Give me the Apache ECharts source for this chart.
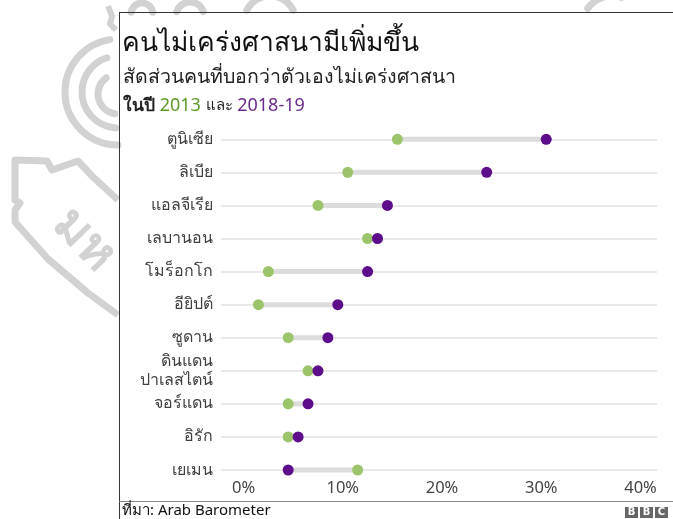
<!DOCTYPE html>
<html>
<head>
<meta charset="utf-8">
<script src="https://cdn.jsdelivr.net/npm/echarts@6/dist/echarts.min.js"></script>
<style>
  html, body { margin: 0; padding: 0; background: #fff; }
  #chart { width: 673px; height: 519px; }
</style>
</head>
<body>
<div id="chart"></div>
<script>
var countries = ['ตูนิเซีย', 'ลิเบีย', 'แอลจีเรีย', 'เลบานอน', 'โมร็อกโก', 'อียิปต์', 'ซูดาน', 'ดินแดน\nปาเลสไตน์', 'จอร์แดน', 'อิรัก', 'เยเมน'];
var val2013 = [15.5, 10.5, 7.5, 12.5, 2.5, 1.5, 4.5, 6.5, 4.5, 4.5, 11.5];
var val2018 = [30.5, 24.5, 14.5, 13.5, 12.5, 9.5, 8.5, 7.5, 6.5, 5.5, 4.5];
var xTicks = [0, 10, 20, 30, 40];

var FONT = "Tahoma, 'Noto Sans', 'DejaVu Sans', sans-serif";
var WM = '#d2d2d2'; // watermark gray
var chart = echarts.init(document.getElementById('chart'));

// gray bar between the two years
var connector = countries.map(function (c, i) {
    return [Math.min(val2013[i], val2018[i]), Math.max(val2013[i], val2018[i]), i];
});

function wmArc(cx, cy, r, a0, a1) {
    return { type: 'arc', silent: true, z: -10,
        shape: { cx: cx, cy: cy, r: r, startAngle: a0, endAngle: a1 },
        style: { stroke: WM, lineWidth: 7, fill: null, lineCap: 'round' } };
}

option = {
    backgroundColor: '#fff',
    animation: false,
    textStyle: { fontFamily: FONT },
    title: [{
        text: 'คนไม่เคร่งศาสนามีเพิ่มขึ้น',
        left: 122, top: 30, padding: 0,
        textStyle: { fontSize: 26.5, fontWeight: 'normal', color: '#111', fontFamily: FONT }
    }, {
        text: 'สัดส่วนคนที่บอกว่าตัวเองไม่เคร่งศาสนา',
        left: 123, top: 67, padding: 0,
        textStyle: { fontSize: 19.5, fontWeight: 'normal', color: '#222', fontFamily: FONT }
    }, {
        text: '{a|ในปี} {g|2013} {b|และ} {p|2018-19}',
        left: 123, top: 97, padding: 0,
        textStyle: {
            fontFamily: FONT,
            rich: {
                a: { fontSize: 17.5, fontWeight: 'bold', color: '#222', fontFamily: FONT },
                g: { fontSize: 18, fontWeight: 'normal', color: '#5e9a26', fontFamily: FONT },
                b: { fontSize: 15, fontWeight: 'normal', color: '#222', fontFamily: FONT },
                p: { fontSize: 18, fontWeight: 'normal', color: '#6b2a8e', fontFamily: FONT }
            }
        }
    }],
    grid: { left: 221, right: 16, top: 139.3, bottom: 49 },
    xAxis: {
        type: 'value',
        min: -2.27,
        max: 41.66,
        splitLine: { show: false },
        axisLine: { show: false },
        axisTick: { show: false },
        axisLabel: {
            customValues: xTicks,
            formatter: function (v) { return v + '%'; },
            fontSize: 16.5, color: '#444', margin: 10, fontFamily: FONT
        }
    },
    yAxis: {
        type: 'category',
        data: countries,
        inverse: true,
        boundaryGap: false,
        axisLine: { show: false },
        axisTick: { show: false },
        splitLine: { show: true, lineStyle: { color: '#e2e2e2', width: 1.5 } },
        axisLabel: { fontSize: 16, color: '#404040', margin: 8, lineHeight: 19, fontFamily: FONT }
    },
    series: [{
        type: 'custom',
        data: connector,
        renderItem: function (params, api) {
            var a = api.coord([api.value(0), api.value(2)]);
            var b = api.coord([api.value(1), api.value(2)]);
            return {
                type: 'line',
                shape: { x1: a[0], y1: a[1], x2: b[0], y2: b[1] },
                style: { stroke: '#dcdcdc', lineWidth: 5 }
            };
        },
        z: 2
    }, {
        name: '2013',
        type: 'scatter',
        data: val2013.map(function (v, i) { return [v, i]; }),
        symbolSize: 11,
        itemStyle: { color: '#9cc46a', opacity: 1 },
        z: 3
    }, {
        name: '2018-19',
        type: 'scatter',
        data: val2018.map(function (v, i) { return [v, i]; }),
        symbolSize: 11,
        itemStyle: { color: '#5d0d8a', opacity: 1 },
        z: 4
    }],
    graphic: [
        // faint seal watermark outside the chart box
        wmArc(118, 92, 53, Math.PI * 0.5, Math.PI * 1.45),
        wmArc(118, 92, 36, Math.PI * 0.52, Math.PI * 1.4),
        wmArc(118, 94, 20, Math.PI * 0.55, Math.PI * 1.3),
        { type: 'polyline', silent: true, z: -10,
          shape: { points: [[108, 6], [112, 16], [110, 24], [116, 30]] },
          style: { stroke: WM, lineWidth: 6, fill: null, lineJoin: 'round' } },
        { type: 'polyline', silent: true, z: -10,
          shape: { points: [[118, 200], [93, 177], [78, 161], [52, 170], [47, 161], [15, 160], [15, 200], [20, 203], [15, 210], [15, 222], [48, 259], [88, 293], [118, 315]] },
          style: { stroke: WM, lineWidth: 7, fill: null, lineJoin: 'round' } },
        { type: 'text', silent: true, z: -10, x: 84, y: 240, rotation: -0.8,
          style: { text: 'มห', fontSize: 50, fontWeight: 'bold', fill: WM, align: 'center', verticalAlign: 'middle', fontFamily: FONT } },
        wmArc(142, 14, 11, Math.PI * 1.05, Math.PI * 1.95),
        wmArc(190, 16, 14, Math.PI * 1.1, Math.PI * 1.9),
        wmArc(270, 22, 26, Math.PI * 1.15, Math.PI * 1.4),
        wmArc(270, 22, 26, Math.PI * 1.6, Math.PI * 1.85),
        wmArc(440, 30, 60, Math.PI * 1.35, Math.PI * 1.42),
        wmArc(470, 30, 60, Math.PI * 1.45, Math.PI * 1.55),
        wmArc(520, 24, 36, Math.PI * 1.3, Math.PI * 1.7),
        wmArc(612, 26, 30, Math.PI * 1.2, Math.PI * 1.6),
        // chart frame
        { type: 'line', shape: { x1: 119.5, y1: 12.5, x2: 119.5, y2: 519 }, style: { stroke: '#333', lineWidth: 1 } },
        { type: 'line', shape: { x1: 119, y1: 12.5, x2: 673, y2: 12.5 }, style: { stroke: '#333', lineWidth: 1 } },
        { type: 'line', shape: { x1: 119, y1: 501.5, x2: 673, y2: 501.5 }, style: { stroke: '#888', lineWidth: 1 } },
        { type: 'text', left: 122, top: 503, style: { text: 'ที่มา: Arab Barometer', fontSize: 15, fill: '#111', fontFamily: FONT } },
        { type: 'rect', shape: { x: 625, y: 507, width: 13, height: 11 }, style: { fill: '#666' } },
        { type: 'rect', shape: { x: 640, y: 507, width: 13, height: 11 }, style: { fill: '#666' } },
        { type: 'rect', shape: { x: 655, y: 507, width: 13, height: 11 }, style: { fill: '#666' } },
        { type: 'text', x: 631.5, y: 512.5, style: { text: 'B', fontSize: 10, fontWeight: 'bold', fill: '#fff', align: 'center', verticalAlign: 'middle', fontFamily: 'DejaVu Sans' } },
        { type: 'text', x: 646.5, y: 512.5, style: { text: 'B', fontSize: 10, fontWeight: 'bold', fill: '#fff', align: 'center', verticalAlign: 'middle', fontFamily: 'DejaVu Sans' } },
        { type: 'text', x: 661.5, y: 512.5, style: { text: 'C', fontSize: 10, fontWeight: 'bold', fill: '#fff', align: 'center', verticalAlign: 'middle', fontFamily: 'DejaVu Sans' } }
    ]
};

chart.setOption(option);
</script>
</body>
</html>
